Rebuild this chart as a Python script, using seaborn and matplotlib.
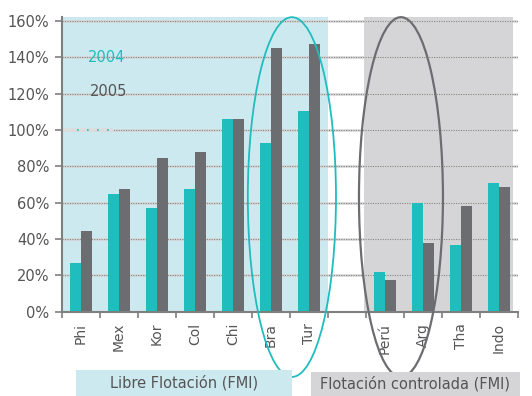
import matplotlib
matplotlib.use("Agg")
import matplotlib.pyplot as plt
import seaborn as sns
import pandas as pd
import numpy as np
from matplotlib.patches import Ellipse, Rectangle
from matplotlib.ticker import FixedLocator, FuncFormatter

# Countries grouped by exchange-rate regime
libre = ["Phi", "Mex", "Kor", "Col", "Chi", "Bra", "Tur"]
controlada = ["Perú", "Arg", "Tha", "Indo"]
years = ["2004", "2005"]

# Values in percent
v2004_libre = [26.6, 64.8, 57.2, 67.4, 105.9, 93.0, 110.6]
v2005_libre = [44.6, 67.5, 84.4, 88.1, 105.9, 145.0, 147.3]
v2004_ctrl = [21.7, 60.0, 36.7, 71.0]
v2005_ctrl = [17.4, 37.6, 58.2, 68.5]

y_ticks = [0, 20, 40, 60, 80, 100, 120, 140, 160]

TEAL = "#1fbdbd"
DGRAY = "#6c6d71"
BLUE_BG = "#cde9f0"
GRAY_BG = "#d5d5d7"
TXT = "#555555"

countries = libre + controlada
df = pd.DataFrame({
    "pais": countries * 2,
    "anio": [years[0]] * len(countries) + [years[1]] * len(countries),
    "valor": v2004_libre + v2004_ctrl + v2005_libre + v2005_ctrl,
})
order = libre + [" "] + controlada

sns.set_style("white")
plt.rcParams["font.family"] = ["DejaVu Sans"]

fig = plt.figure(figsize=(5.32, 3.96), dpi=100)
ax = fig.add_axes([62 / 532, 1 - 311.7 / 396, 456 / 532, (311.7 - 17) / 396])

# regime backgrounds
ax.axvspan(-0.5, len(libre) - 0.5, color=BLUE_BG, zorder=0, lw=0)
ax.axvspan(len(libre) + 0.45, len(order) - 0.63, color=GRAY_BG, zorder=0, lw=0)

# gridlines: soft solid line with a dotted darker overlay
for yv in y_ticks[1:]:
    ax.axhline(yv, color="#d6d6d6", lw=1.8, zorder=0.5)
    ax.axhline(yv, color="#858585", lw=0.8, ls=(0, (1, 1.2)), zorder=0.6)
ax.plot([-0.5, 0.82], [100, 100], color="#dcdcdc", lw=2.6, zorder=0.7)
ax.plot([-0.1, 0.82], [100, 100], color=TEAL, lw=1.2, ls=(0, (1, 5)), zorder=0.8)

sns.barplot(data=df, x="pais", y="valor", hue="anio", order=order,
            hue_order=years, palette=[TEAL, DGRAY], width=0.6, gap=0,
            saturation=1, legend=False, ax=ax, zorder=2, linewidth=0)

ax.set_xlim(-0.5, len(order) - 0.5)
ax.set_ylim(0, 162.2)
ax.set_xlabel("")
ax.set_ylabel("")

# y axis
ax.yaxis.set_major_locator(FixedLocator(y_ticks))
ax.yaxis.set_major_formatter(FuncFormatter(lambda v, p: f"{int(v)}%"))
ax.tick_params(axis="y", length=5, width=1.2, color="#7f7f7f", pad=4,
               labelsize=10.5, labelcolor=TXT, left=True)

# x axis: labels centred, ticks on slot boundaries
ax.set_xticks(range(len(order)))
ax.set_xticklabels(order, rotation=90)
ax.set_xticks(np.arange(-0.5, len(order)), minor=True)
ax.tick_params(axis="x", which="major", length=0, pad=8, labelsize=10,
               labelcolor=TXT)
ax.tick_params(axis="x", which="minor", length=4, width=1.2, color="#7f7f7f",
               bottom=True)

for side in ["top", "right"]:
    ax.spines[side].set_visible(False)
for side in ["left", "bottom"]:
    ax.spines[side].set_color("#7f7f7f")
    ax.spines[side].set_linewidth(1.5)

# series labels
ax.text(0.18, 140, "2004", color=TEAL, fontsize=10.5, va="center")
ax.text(0.23, 121, "2005", color=TXT, fontsize=10.5, va="center")

# ellipses around highlighted groups
ax.add_patch(Ellipse((5.55, 63.1), width=2.32, height=198, fill=False,
                     edgecolor=TEAL, lw=1.3, clip_on=False, zorder=5))
ax.add_patch(Ellipse((8.42, 63.1), width=2.21, height=198, fill=False,
                     edgecolor=DGRAY, lw=1.6, clip_on=False, zorder=5))

# regime captions below the axis
fig.patches.append(Rectangle((76 / 532, 0), (292 - 76) / 532, 26 / 396,
                             transform=fig.transFigure, color=BLUE_BG, lw=0,
                             zorder=0))
fig.patches.append(Rectangle((311 / 532, 0), (520 - 311) / 532, 24 / 396,
                             transform=fig.transFigure, color=GRAY_BG, lw=0,
                             zorder=0))
fig.text(184 / 532, 1 - 383 / 396, "Libre Flotación (FMI)", ha="center",
         va="center", fontsize=10.5, color=TXT)
fig.text(415 / 532, 1 - 384 / 396, "Flotación controlada (FMI)", ha="center",
         va="center", fontsize=10.5, color=TXT)

fig.savefig("out.png", dpi=100)
